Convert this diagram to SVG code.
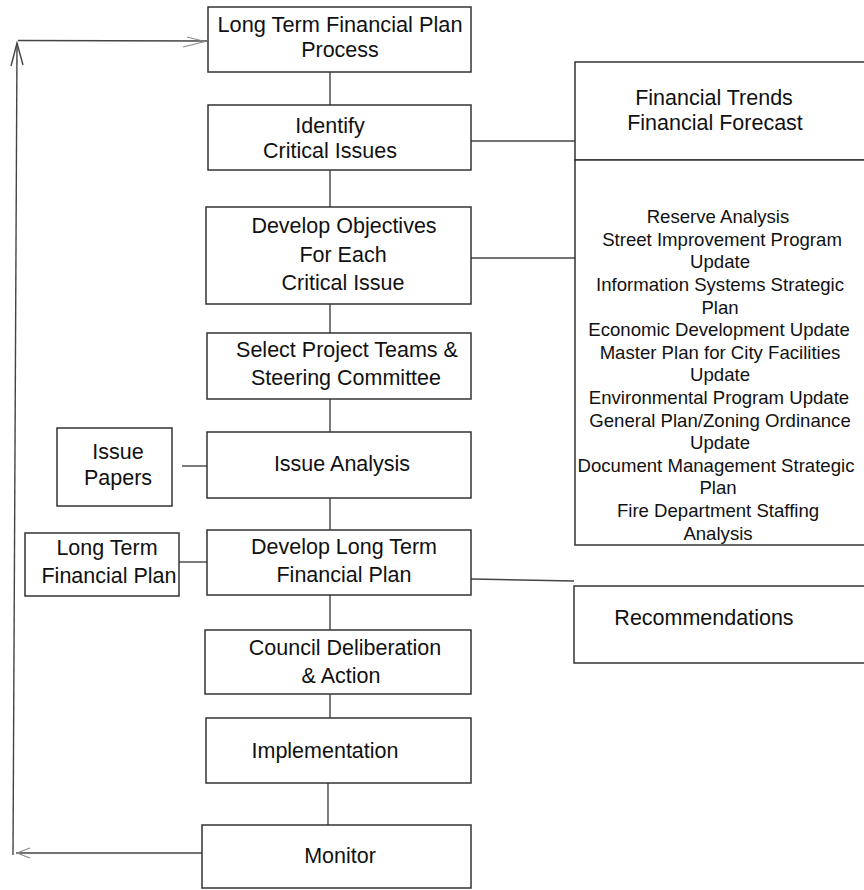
<svg xmlns="http://www.w3.org/2000/svg" width="864" height="890" viewBox="0 0 864 890">
<style>
.b{fill:#fff;stroke:#333;stroke-width:1.5}
.t{font-family:"Liberation Sans",Arial,sans-serif;font-size:21.5px;fill:#111;text-anchor:middle}
.s{font-family:"Liberation Sans",Arial,sans-serif;font-size:18.6px;fill:#111;text-anchor:middle}
.c{fill:none;stroke:#444;stroke-width:1.4}
.f{fill:none;stroke:#888;stroke-width:1.1}
</style>
<rect width="864" height="890" fill="#fff"/>
<g id="connectors">
<line class="c" x1="330" y1="72" x2="330" y2="105"/>
<line class="c" x1="330" y1="170" x2="330" y2="207"/>
<line class="c" x1="330" y1="304" x2="330" y2="333"/>
<line class="c" x1="330" y1="399" x2="330" y2="432"/>
<line class="c" x1="330" y1="498" x2="330" y2="530"/>
<line class="c" x1="330" y1="595" x2="330" y2="630"/>
<line class="c" x1="330" y1="694" x2="330" y2="718"/>
<line class="c" x1="328" y1="783" x2="328" y2="825"/>
<line class="c" x1="471" y1="141" x2="575" y2="141"/>
<line class="c" x1="471" y1="258" x2="575" y2="258"/>
<line class="c" x1="471" y1="579" x2="574" y2="581"/>
<line class="c" x1="182" y1="466" x2="207" y2="466"/>
<line class="c" x1="179" y1="562" x2="207" y2="562"/>
<line class="c" x1="202" y1="853" x2="16" y2="853"/>
<path class="f" d="M30,848 L17,853 L30,858"/>
<line class="c" x1="13" y1="855" x2="17" y2="43"/>
<path class="c" d="M11,66 L17,43 L23,65"/>
<line class="c" x1="18" y1="40.5" x2="207" y2="41"/>
<path class="f" d="M183,47 L205,41.5 L187,37"/>
</g>
<g id="n1"><rect class="b" x="208" y="7" width="263" height="65"/>
<text class="t" x="340" y="32" textLength="245" lengthAdjust="spacingAndGlyphs">Long Term Financial Plan</text><text class="t" x="340" y="57">Process</text></g>
<g id="n2"><rect class="b" x="208" y="105" width="263" height="65"/>
<text class="t" x="330" y="133">Identify</text><text class="t" x="330" y="158">Critical Issues</text></g>
<g id="n3"><rect class="b" x="206" y="207" width="265" height="97"/>
<text class="t" x="344" y="233">Develop Objectives</text><text class="t" x="343" y="262">For Each</text><text class="t" x="343" y="290">Critical Issue</text></g>
<g id="n4"><rect class="b" x="207" y="333" width="264" height="66"/>
<text class="t" x="347" y="357">Select Project Teams &amp;</text><text class="t" x="346" y="385">Steering Committee</text></g>
<g id="n5"><rect class="b" x="207" y="432" width="264" height="66"/>
<text class="t" x="342" y="471">Issue Analysis</text></g>
<g id="n6"><rect class="b" x="207" y="530" width="264" height="65"/>
<text class="t" x="344" y="554">Develop Long Term</text><text class="t" x="344" y="582">Financial Plan</text></g>
<g id="n7"><rect class="b" x="205" y="630" width="266" height="64"/>
<text class="t" x="345" y="655">Council Deliberation</text><text class="t" x="341" y="683">&amp; Action</text></g>
<g id="n8"><rect class="b" x="206" y="718" width="265" height="65"/>
<text class="t" x="325" y="758">Implementation</text></g>
<g id="n9"><rect class="b" x="202" y="825" width="269" height="63"/>
<text class="t" x="340" y="863">Monitor</text></g>
<g id="issuepapers"><rect class="b" x="57" y="428" width="115" height="78"/>
<text class="t" x="118" y="459">Issue</text><text class="t" x="118" y="485">Papers</text></g>
<g id="ltfp"><rect class="b" x="25" y="533" width="154" height="63"/>
<text class="t" x="107" y="555">Long Term</text><text class="t" x="109" y="583">Financial Plan</text></g>
<g id="trends"><rect class="b" x="575" y="62" width="295" height="98"/>
<text class="t" x="714" y="105">Financial Trends</text><text class="t" x="715" y="130">Financial Forecast</text></g>
<g id="projects"><rect class="b" x="575" y="160" width="295" height="385"/>
<text class="s" x="718" y="223">Reserve Analysis</text>
<text class="s" x="722" y="246">Street Improvement Program</text>
<text class="s" x="720" y="268">Update</text>
<text class="s" x="720" y="291">Information Systems Strategic</text>
<text class="s" x="720" y="314">Plan</text>
<text class="s" x="719" y="336">Economic Development Update</text>
<text class="s" x="720" y="359">Master Plan for City Facilities</text>
<text class="s" x="720" y="381">Update</text>
<text class="s" x="719" y="404">Environmental Program Update</text>
<text class="s" x="720" y="427">General Plan/Zoning Ordinance</text>
<text class="s" x="720" y="449">Update</text>
<text class="s" x="716" y="472">Document Management Strategic</text>
<text class="s" x="718" y="494">Plan</text>
<text class="s" x="718" y="517">Fire Department Staffing</text>
<text class="s" x="718" y="540">Analysis</text></g>
<g id="recs"><rect class="b" x="574" y="586" width="296" height="77"/>
<text class="t" x="704" y="625">Recommendations</text></g>
</svg>
